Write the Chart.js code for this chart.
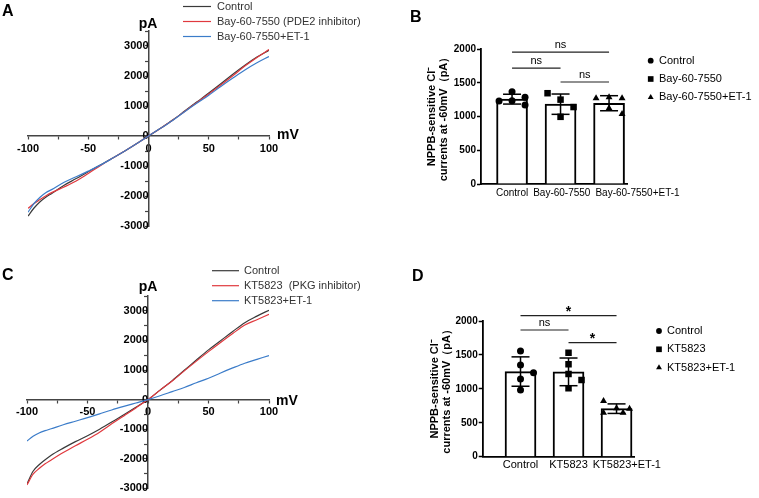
<!DOCTYPE html>
<html>
<head>
<meta charset="utf-8">
<script src="https://cdn.jsdelivr.net/npm/chart.js@4.4.1/dist/chart.umd.min.js"></script>
<style>
  body { margin: 0; background: #fff; width: 759px; height: 498px; overflow: hidden; position: relative; }
  canvas { position: absolute; }
</style>
</head>
<body>
<canvas id="chartA" width="380" height="250" style="left:0;top:0"></canvas>
<canvas id="chartB" width="379" height="250" style="left:380px;top:0"></canvas>
<canvas id="chartC" width="380" height="248" style="left:0;top:250px"></canvas>
<canvas id="chartD" width="379" height="248" style="left:380px;top:250px"></canvas>
<script>
// holding potentials (mV) of the I-V traces
var voltages = [-100, -95, -90, -85, -80, -70, -60, -50, -40, -30, -20, -10, 0, 10, 20, 30, 40, 50, 60, 70, 80, 90, 100];

// panel A currents (pA)
var ctrlA  = [-2670, -2400, -2190, -2030, -1910, -1640, -1420, -1190, -970, -745, -510, -260, 0, 260, 530, 830, 1130, 1430, 1740, 2060, 2360, 2630, 2860];
var bayA   = [-2410, -2250, -2120, -1990, -1880, -1700, -1500, -1250, -990, -745, -510, -260, 0, 255, 525, 820, 1110, 1400, 1700, 2010, 2330, 2620, 2880];
var bayEtA = [-2540, -2250, -2040, -1880, -1780, -1540, -1360, -1170, -970, -745, -510, -260, 0, 255, 520, 810, 1090, 1360, 1650, 1930, 2200, 2440, 2650];

// panel C currents (pA)
var ctrlC = [-2850, -2420, -2200, -2030, -1880, -1640, -1420, -1220, -1000, -760, -510, -260, 0, 320, 640, 990, 1340, 1680, 1990, 2300, 2600, 2820, 3020];
var ktC   = [-2880, -2520, -2330, -2170, -2040, -1790, -1560, -1340, -1100, -820, -550, -280, 0, 320, 630, 970, 1300, 1620, 1930, 2230, 2520, 2700, 2880];
var ktEtC = [-1400, -1240, -1130, -1050, -985, -850, -730, -610, -480, -350, -230, -115, 0, 130, 270, 410, 570, 720, 900, 1070, 1230, 1360, 1490];

var ivXTicks = [-100, -50, 0, 50, 100];
var ivYTicks = [-3000, -2000, -1000, 0, 1000, 2000, 3000];
var legendA = ['Control', 'Bay-60-7550 (PDE2 inhibitor)', 'Bay-60-7550+ET-1'];
var legendC = ['Control', 'KT5823  (PKG inhibitor)', 'KT5823+ET-1'];

// panel B: NPPB-sensitive currents at -60 mV (pA), one value per cell
var groupsB = ['Control', 'Bay-60-7550', 'Bay-60-7550+ET-1'];
var ctrlB  = [1365, 1235, 1285, 1230, 1170];
var bayB   = [1250, 1140, 1345, 995];
var bayEtB = [1285, 1270, 1270, 1121, 1037];
var sigPairsB = [[0, 2], [0, 1], [1, 2]];
var sigLevelsB = [1955, 1718, 1511];
var sigTextB = ['ns', 'ns', 'ns'];

// panel D
var groupsD = ['Control', 'KT5823', 'KT5823+ET-1'];
var ctrlD = [1558, 1351, 1145, 983, 1238];
var ktD   = [1533, 1362, 1219, 1130, 1008];
var ktEtD = [713, 708, 821, 649, 649];
var sigPairsD = [[0, 2], [0, 1], [1, 2]];
var sigLevelsD = [2078, 1867, 1680];
var sigTextD = ['*', 'ns', '*'];

var barYTicks = [0, 500, 1000, 1500, 2000];
var yTitle = ['NPPB-sensitive Cl\u207B', 'currents at -60mV\uFF08pA\uFF09'];

var F = '"Liberation Sans", Arial, Helvetica, sans-serif';
Chart.defaults.font.family = F;
Chart.defaults.color = '#000';
Chart.defaults.animation = false;
Chart.defaults.events = [];
Chart.defaults.plugins.legend.display = false;
Chart.defaults.plugins.tooltip.enabled = false;

function mean(a) { return a.reduce(function (s, v) { return s + v; }, 0) / a.length; }
function sd(a) {
    var m = mean(a);
    return Math.sqrt(a.reduce(function (s, v) { return s + (v - m) * (v - m); }, 0) / (a.length - 1));
}

// simple beeswarm: spread points sideways when their markers would overlap
function swarm(values, yPx, xPx) {
    var placed = [], out = [], moved = 0, d = 7.5, step = 13;
    values.forEach(function (v) {
        var y = v * yPx, off = 0;
        var clash = function (o) {
            return placed.some(function (p) { return Math.hypot((p.o - o) * step, p.y - y) < d; });
        };
        if (clash(0)) {
            var side = moved % 2 === 0 ? 1 : -1, tries = [1, 0.5, 1.5];
            moved++;
            for (var k = 0; k < tries.length; k++) {
                if (!clash(side * tries[k])) { off = side * tries[k]; break; }
                if (!clash(-side * tries[k])) { off = -side * tries[k]; break; }
            }
        }
        placed.push({ o: off, y: y });
        out.push(off * step / xPx);
    });
    return out;
}

function line(ctx, x1, y1, x2, y2) {
    ctx.beginPath();
    ctx.moveTo(x1, y1);
    ctx.lineTo(x2, y2);
    ctx.stroke();
}

var decor = {
    id: 'decor',
    afterDraw: function (chart, args, o) {
        var ctx = chart.ctx, xs = chart.scales.x, ys = chart.scales.y;
        ctx.save();
        ctx.textBaseline = 'middle';

        (o.texts || []).forEach(function (t) {
            ctx.font = t.font;
            ctx.fillStyle = '#000';
            ctx.textAlign = t.align || 'left';
            ctx.fillText(t.text, t.x, t.y);
        });

        if (o.legend) {
            var L = o.legend;
            ctx.textAlign = 'left';
            L.items.forEach(function (it, i) {
                var y = L.y0 + i * L.dy;
                if (it.color) {
                    ctx.strokeStyle = it.color;
                    ctx.lineWidth = 1.2;
                    line(ctx, L.x1, y, L.x2, y);
                } else {
                    ctx.fillStyle = '#000';
                    Chart.helpers.drawPoint(ctx, { pointStyle: it.style, radius: it.r, rotation: 0, borderWidth: 0 }, L.x1, y);
                }
                ctx.font = L.font;
                ctx.fillStyle = L.textColor;
                ctx.fillText(it.text, L.tx, y);
            });
        }

        if (o.groups) {
            var g = o.groups;
            ctx.strokeStyle = '#000';
            ctx.lineWidth = 1.5;
            g.values.forEach(function (vals, i) {
                var m = mean(vals), s = sd(vals);
                var cx = xs.getPixelForValue(i);
                var yt = ys.getPixelForValue(m + s), yb = ys.getPixelForValue(m - s);
                line(ctx, cx, yt, cx, yb);
                line(ctx, cx - g.cap / 2, yt, cx + g.cap / 2, yt);
                line(ctx, cx - g.cap / 2, yb, cx + g.cap / 2, yb);
            });

            ctx.font = g.labelFont;
            ctx.fillStyle = '#000';
            ctx.textAlign = 'left';
            var prev = -Infinity;
            g.labels.forEach(function (lab, i) {
                var w = ctx.measureText(lab).width;
                var left = Math.max(xs.getPixelForValue(i) - w / 2, prev + 5);
                ctx.fillText(lab, left, ys.bottom + g.labelGap);
                prev = left + w;
            });

            ctx.strokeStyle = '#222';
            ctx.lineWidth = 1.2;
            ctx.textAlign = 'center';
            g.sigPairs.forEach(function (p, k) {
                var x1 = xs.getPixelForValue(p[0]), x2 = xs.getPixelForValue(p[1]);
                var y = ys.getPixelForValue(g.sigLevels[k]);
                line(ctx, x1, y, x2, y);
                if (g.sigText[k] === '*') {
                    ctx.font = 'bold 14px ' + F;
                    ctx.fillText('*', (x1 + x2) / 2, y - 4);
                } else {
                    ctx.font = '11px ' + F;
                    ctx.fillText(g.sigText[k], (x1 + x2) / 2, y - 7);
                }
            });
        }
        ctx.restore();
    }
};

var ivColors = ['#3a3a3a', '#e0393e', '#3b7cc9'];

function ivChart(id, series, o) {
    new Chart(document.getElementById(id), {
        type: 'line',
        data: {
            datasets: series.map(function (s, k) {
                return {
                    data: voltages.map(function (v, i) { return { x: v, y: s[i] }; }),
                    borderColor: ivColors[k],
                    borderWidth: 1.2,
                    pointRadius: 0,
                    cubicInterpolationMode: 'monotone',
                    order: 2 - k
                };
            })
        },
        options: {
            responsive: false,
            layout: { padding: o.padding },
            scales: {
                x: {
                    type: 'linear', position: { y: 0 }, min: -100, max: 100,
                    ticks: {
                        stepSize: 25, autoSkip: false, maxRotation: 0, padding: 3,
                        font: { size: 11, weight: 'bold' },
                        callback: function (v) { return ivXTicks.indexOf(v) >= 0 ? v : ''; }
                    },
                    grid: { drawOnChartArea: false, tickLength: 3, tickColor: '#444', tickWidth: 1.2 },
                    border: { color: '#444', width: 1.5 }
                },
                y: {
                    type: 'linear', position: { x: 0 }, min: -3000, max: 3500,
                    ticks: {
                        stepSize: 500, autoSkip: false, padding: 3,
                        font: { size: 11, weight: 'bold' },
                        callback: function (v) { return ivYTicks.indexOf(v) >= 0 ? v : ''; }
                    },
                    grid: { drawOnChartArea: false, tickLength: 3, tickColor: '#444', tickWidth: 1.2 },
                    border: { color: '#444', width: 1.5 }
                }
            },
            plugins: {
                decor: {
                    texts: o.texts,
                    legend: {
                        items: o.legend.map(function (t, k) { return { color: ivColors[k], text: t }; }),
                        x1: o.legendX[0], x2: o.legendX[1], tx: o.legendX[2],
                        y0: o.legendY, dy: 15, font: '11px ' + F, textColor: '#333'
                    }
                }
            }
        },
        plugins: [decor]
    });
}

var markers = [{ style: 'circle', r: 3.5 }, { style: 'rect', r: 4.6 }, { style: 'triangle', r: 4 }];

function barChart(id, groups, labels, sig, o) {
    var datasets = [{
        type: 'bar',
        data: groups.map(function (vals, i) { return { x: i, y: mean(vals) }; }),
        backgroundColor: '#fff', borderColor: '#000', borderWidth: 2,
        barThickness: 31, order: 2
    }];
    groups.forEach(function (vals, i) {
        var jit = swarm(vals, o.yPx, o.xPx);
        datasets.push({
            type: 'scatter',
            data: vals.map(function (v, j) { return { x: i + jit[j], y: v }; }),
            pointStyle: markers[i].style, pointRadius: markers[i].r,
            backgroundColor: '#000', borderWidth: 0, order: 1
        });
    });
    new Chart(document.getElementById(id), {
        type: 'bar',
        data: { datasets: datasets },
        options: {
            responsive: false,
            layout: { padding: o.padding },
            scales: {
                x: {
                    type: 'linear', min: o.xRange[0], max: o.xRange[1], offset: false,
                    ticks: { display: false }, grid: { display: false },
                    border: { color: '#000', width: 1.8 },
                    afterFit: function (s) { s.height = 0; }
                },
                y: {
                    min: 0, max: 2000,
                    ticks: {
                        stepSize: 500, padding: 1, font: { size: 10, weight: 'bold' },
                        callback: function (v) { return barYTicks.indexOf(v) >= 0 ? v : ''; }
                    },
                    grid: { drawOnChartArea: false, tickLength: 4, tickColor: '#000', tickWidth: 1.5 },
                    border: { color: '#000', width: 1.8 },
                    title: { display: true, text: yTitle, padding: 0, font: { size: 11, weight: 'bold', lineHeight: 1.1 } },
                    afterFit: function (s) { s.width = o.yWidth; }
                }
            },
            plugins: {
                decor: {
                    texts: o.texts,
                    legend: {
                        items: labels.map(function (t, k) { return { style: markers[k].style, r: markers[k].r - 0.6, text: t }; }),
                        x1: o.legendX[0], tx: o.legendX[1], y0: o.legendY, dy: 18.3,
                        font: '11px ' + F, textColor: '#000'
                    },
                    groups: {
                        values: groups, labels: labels, cap: 18,
                        labelFont: o.labelFont, labelGap: o.labelGap,
                        sigPairs: sig[0], sigLevels: sig[1], sigText: sig[2]
                    }
                }
            }
        },
        plugins: [decor]
    });
}

ivChart('chartA', [ctrlA, bayA, bayEtA], {
    padding: { left: 28, right: 111, top: 31, bottom: 24 },
    legend: legendA, legendX: [183, 211, 217], legendY: 6.5,
    texts: [
        { text: 'A', font: 'bold 16px ' + F, x: 2, y: 12 },
        { text: 'pA', font: 'bold 14px ' + F, x: 148, y: 24, align: 'center' },
        { text: 'mV', font: 'bold 14px ' + F, x: 277, y: 135 }
    ]
});

ivChart('chartC', [ctrlC, ktC, ktEtC], {
    padding: { left: 27, right: 111, top: 46, bottom: 8 },
    legend: legendC, legendX: [212, 239, 244], legendY: 20.7,
    texts: [
        { text: 'C', font: 'bold 16px ' + F, x: 2, y: 26 },
        { text: 'pA', font: 'bold 14px ' + F, x: 148, y: 37, align: 'center' },
        { text: 'mV', font: 'bold 14px ' + F, x: 276, y: 151 }
    ]
});

barChart('chartB', [ctrlB, bayB, bayEtB], groupsB, [sigPairsB, sigLevelsB, sigTextB], {
    padding: { left: 45.85, right: 132, top: 49, bottom: 66 },
    yWidth: 55.15, xRange: [-0.64, 2.37], yPx: 135 / 2000, xPx: 48.5,
    legendX: [270.7, 279], legendY: 60.7,
    labelFont: '10px ' + F, labelGap: 9,
    texts: [{ text: 'B', font: 'bold 16px ' + F, x: 30, y: 18 }]
});

barChart('chartD', [ctrlD, ktD, ktEtD], groupsD, [sigPairsD, sigLevelsD, sigTextD], {
    padding: { left: 49, right: 124.7, top: 71, bottom: 41.3 },
    yWidth: 53.7, xRange: [-0.7875, 2.37], yPx: 135.7 / 2000, xPx: 48,
    legendX: [279, 287], legendY: 81,
    labelFont: '11px ' + F, labelGap: 8.5,
    texts: [{ text: 'D', font: 'bold 16px ' + F, x: 32, y: 27 }]
});
</script>
</body>
</html>
